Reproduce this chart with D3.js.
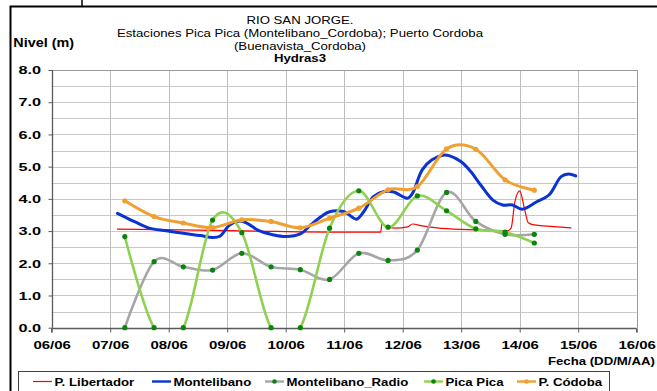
<!DOCTYPE html>
<html>
<head>
<meta charset="utf-8">
<script src="https://cdn.jsdelivr.net/npm/d3@7"></script>
<style>
  body { margin: 0; background: #fff; }
  svg { display: block; }
  text { font-family: "Liberation Sans", Arial, Helvetica, sans-serif; fill: #000; }
</style>
</head>
<body>
<svg id="chart" width="657" height="391"></svg>
<script>
// ---- Data -------------------------------------------------------------
// Twice-daily readings (06:00 and 18:00)
const obsTimes = ["07/06 06:00","07/06 18:00","08/06 06:00","08/06 18:00","09/06 06:00",
                  "09/06 18:00","10/06 06:00","10/06 18:00","11/06 06:00","11/06 18:00",
                  "12/06 06:00","12/06 18:00","13/06 06:00","13/06 18:00","14/06 06:00"];
const montelibanoRadio = [0.00, 2.05, 1.89, 1.79, 2.31, 1.89, 1.80, 1.50, 2.31, 2.09, 2.41, 4.20, 3.30, 2.90, 2.90];
const picaPica         = [2.83, 0.00, 0.00, 3.34, 2.95, 0.00, 0.00, 3.09, 4.25, 3.12, 4.09, 3.63, 3.07, 2.97, 2.63];
const pCordoba         = [3.94, 3.45, 3.25, 3.11, 3.35, 3.30, 3.10, 3.40, 3.71, 4.28, 4.38, 5.55, 5.54, 4.59, 4.27];

// Automatic station Montelibano
const montelibanoTimes = ["07/06 03:00","07/06 10:00","07/06 16:00","07/06 23:00","08/06 06:00",
                          "08/06 13:00","08/06 18:00","08/06 21:00","09/06 01:00","09/06 05:00",
                          "09/06 08:00","09/06 13:00","09/06 19:00","10/06 00:00","10/06 06:00",
                          "10/06 11:00","10/06 18:00","11/06 00:00","11/06 05:00","11/06 08:00",
                          "11/06 12:00","11/06 16:00","11/06 20:00","12/06 02:00","12/06 04:00",
                          "12/06 08:00","12/06 12:00","12/06 17:00","12/06 19:00","13/06 00:00",
                          "13/06 04:00","13/06 08:00","13/06 13:00","13/06 17:00","13/06 21:00",
                          "14/06 01:00","14/06 07:00","14/06 12:00","14/06 17:00","14/06 20:00",
                          "14/06 23:00"];
const montelibano = [3.55, 3.29, 3.09, 3.01, 2.93, 2.86, 2.80, 2.84, 3.19, 3.31,
                     3.25, 3.01, 2.88, 2.83, 2.91, 3.24, 3.60, 3.60, 3.37, 3.60,
                     4.07, 4.22, 4.22, 4.02, 4.17, 4.90, 5.21, 5.36, 5.34, 5.15,
                     4.84, 4.43, 3.96, 3.81, 3.81, 3.68, 3.91, 4.12, 4.69, 4.77,
                     4.71];

// Automatic station P. Libertador
const libertadorTimes = ["07/06 03:00","08/06 12:00","09/06 12:00","10/06 18:00","11/06 15:00",
                         "11/06 15:30","11/06 17:00","11/06 21:00","12/06 02:00","12/06 04:00",
                         "12/06 08:00","12/06 14:00","13/06 00:00","13/06 10:00","13/06 19:00",
                         "13/06 20:30","13/06 22:00","14/06 00:00","14/06 02:00","14/06 03:30",
                         "14/06 06:00","14/06 14:00","14/06 21:00"];
const libertador = [3.06, 3.03, 3.00, 2.97, 2.97, 3.24, 3.14, 3.09, 3.13, 3.22,
                    3.16, 3.10, 3.05, 3.03, 3.01, 3.10, 3.90, 4.25, 3.68, 3.26,
                    3.19, 3.14, 3.10];

const yTicks = [0, 1, 2, 3, 4, 5, 6, 7, 8];
const titleLines = ["RIO SAN JORGE.",
                    "Estaciones Pica Pica (Montelibano_Cordoba); Puerto Cordoba",
                    "(Buenavista_Cordoba)"];
const subtitle = "Hydras3";
const yTitle = "Nivel (m)";
const xTitle = "Fecha (DD/M/AA)";
const seriesNames = ["P. Libertador", "Montelibano", "Montelibano_Radio", "Pica Pica", "P. Códoba"];

// ---- Setup ------------------------------------------------------------
const parse = d3.timeParse("%d/%m %H:%M");
const svg = d3.select("#chart");
const plot = { left: 51.7, right: 636.7, top: 70, bottom: 327.7 };

const x = d3.scaleTime()
  .domain([parse("06/06 00:00"), parse("16/06 00:00")])
  .range([plot.left, plot.right]);
const y = d3.scaleLinear().domain([0, 8]).range([plot.bottom, plot.top]);

// widen glyphs horizontally by factor k
function stretch(sel, k) {
  sel.each(function () {
    const w = this.getComputedTextLength();
    this.setAttribute("textLength", (w * k).toFixed(1));
    this.setAttribute("lengthAdjust", "spacingAndGlyphs");
  });
}

svg.append("rect").attr("width", 657).attr("height", 391).attr("fill", "#fff");

// outer frame
svg.append("path")
  .attr("d", "M10.5,400V6.5H670")
  .attr("fill", "none").attr("stroke", "#000").attr("stroke-width", 2);
svg.append("line")
  .attr("x1", 82).attr("x2", 82).attr("y1", 0).attr("y2", 6)
  .attr("stroke", "#000").attr("stroke-width", 1.5);

// ---- Titles -----------------------------------------------------------
const titleY = [24, 37.3, 49.8];
const tl = svg.append("g").attr("text-anchor", "middle");
titleLines.forEach((t, i) => {
  tl.append("text").attr("x", 300).attr("y", titleY[i])
    .attr("font-size", 11).text(t).call(stretch, 1.2);
});
tl.append("text").attr("x", 300).attr("y", 61.7)
  .attr("font-size", 11).attr("font-weight", "bold").text(subtitle).call(stretch, 1.2);

svg.append("text").attr("x", 13.3).attr("y", 46.7)
  .attr("font-size", 12.5).attr("font-weight", "bold").text(yTitle).call(stretch, 1.15);

svg.append("text").attr("x", 655).attr("y", 365).attr("text-anchor", "end")
  .attr("font-size", 11).attr("font-weight", "bold").text(xTitle).call(stretch, 1.2);

// ---- Grid -------------------------------------------------------------
const grid = svg.append("g");
d3.range(0.5, 8, 0.5).forEach(v => {
  grid.append("line")
    .attr("x1", plot.left).attr("x2", plot.right)
    .attr("y1", Math.round(y(v)) + 0.5).attr("y2", Math.round(y(v)) + 0.5)
    .attr("stroke", "#c8c8c8").attr("stroke-width", 1);
});
x.ticks(d3.timeDay.every(1)).slice(1).forEach(d => {
  grid.append("line")
    .attr("x1", Math.round(x(d)) + 0.5).attr("x2", Math.round(x(d)) + 0.5)
    .attr("y1", plot.top).attr("y2", plot.bottom)
    .attr("stroke", "#bdbdbd").attr("stroke-width", 1);
});
// plot border (top, right)
grid.append("path")
  .attr("d", `M${plot.left},${Math.round(plot.top) + 0.5}H${Math.round(plot.right) + 0.5}V${plot.bottom}`)
  .attr("fill", "none").attr("stroke", "#9a9a9a").attr("stroke-width", 1);

// ---- Axes -------------------------------------------------------------
const yAxis = svg.append("g")
  .attr("transform", `translate(${Math.round(plot.left) + 0.5},0)`)
  .call(d3.axisLeft(y).tickValues(yTicks).tickFormat(d3.format(".1f")).tickSize(4).tickPadding(7.5));
const xAxis = svg.append("g")
  .attr("transform", `translate(0,${Math.round(plot.bottom) + 0.5})`)
  .call(d3.axisBottom(x).ticks(d3.timeDay.every(1)).tickFormat(d3.timeFormat("%d/%m")).tickSize(4).tickPadding(8.3));

[yAxis, xAxis].forEach(ax => {
  ax.select(".domain").attr("stroke", "#5a5a5a").attr("stroke-width", 1.3);
  ax.selectAll(".tick line").attr("stroke", "#5a5a5a");
  ax.selectAll(".tick text")
    .attr("font-family", '"Liberation Sans", Arial, sans-serif')
    .attr("font-size", 11.8).attr("font-weight", "bold").attr("fill", "#000");
});
yAxis.selectAll(".tick text").call(stretch, 1.38);
xAxis.selectAll(".tick text").call(stretch, 1.27);
// axis lines span the whole plot edge
yAxis.select(".domain").attr("d", `M0,${plot.top}V${plot.bottom}`);
xAxis.select(".domain").attr("d", `M${plot.left},0H${plot.right}M${plot.left},0V4M${plot.right},0V4`);

// ---- Series -----------------------------------------------------------
svg.append("clipPath").attr("id", "plotClip")
  .append("rect")
  .attr("x", plot.left).attr("y", plot.top)
  .attr("width", plot.right - plot.left).attr("height", plot.bottom - plot.top);

const series = svg.append("g");
const lines = series.append("g").attr("clip-path", "url(#plotClip)");

const smooth = d3.curveCardinal.tension(0);
function toPts(times, vals) { return times.map((t, i) => [parse(t), vals[i]]); }
const lineGen = curve => d3.line().x(d => x(d[0])).y(d => y(d[1])).curve(curve);

const colors = {
  libertador: "#ff0000",
  montelibano: "#0b33d2",
  radio: "#a6a6a6",
  pica: "#8fd150",
  cordoba: "#f0a032",
  dot: "#0a850a"
};

const seriesDefs = [
  { pts: toPts(libertadorTimes, libertador), color: colors.libertador, w: 1.2, curve: d3.curveMonotoneX },
  { pts: toPts(montelibanoTimes, montelibano), color: colors.montelibano, w: 3, curve: d3.curveCatmullRom.alpha(0.5) },
  { pts: toPts(obsTimes, montelibanoRadio), color: colors.radio, w: 2.6, curve: smooth, dot: colors.dot },
  { pts: toPts(obsTimes, picaPica), color: colors.pica, w: 2.6, curve: smooth, dot: colors.dot },
  { pts: toPts(obsTimes, pCordoba), color: colors.cordoba, w: 3, curve: smooth, dot: colors.cordoba }
];

seriesDefs.forEach(s => {
  lines.append("path")
    .attr("d", lineGen(s.curve)(s.pts))
    .attr("fill", "none").attr("stroke", s.color)
    .attr("stroke-width", s.w).attr("stroke-linejoin", "round").attr("stroke-linecap", "round");
  if (s.dot) {
    series.append("g").selectAll("circle").data(s.pts).join("circle")
      .attr("cx", d => x(d[0])).attr("cy", d => y(d[1]))
      .attr("r", 2.6).attr("fill", s.dot);
  }
});

// ---- Legend -----------------------------------------------------------
svg.append("rect")
  .attr("x", 18.5).attr("y", 371.5).attr("width", 591).attr("height", 40)
  .attr("fill", "#fff").attr("stroke", "#404040").attr("stroke-width", 1);

const legendX = [33, 152, 265, 424, 517];
const legend = svg.append("g");
seriesDefs.forEach((s, i) => {
  const g = legend.append("g").attr("transform", `translate(${legendX[i]},381.5)`);
  g.append("line").attr("x1", 0).attr("x2", 19).attr("y1", 0).attr("y2", 0)
    .attr("stroke", s.color).attr("stroke-width", Math.min(s.w, 2.4));
  if (s.dot) g.append("circle").attr("cx", 9.5).attr("cy", 0).attr("r", 2.3).attr("fill", s.dot);
  g.append("text").attr("x", 21.5).attr("y", 4.3)
    .attr("font-size", 11).attr("font-weight", "bold").text(seriesNames[i]).call(stretch, 1.2);
});
</script>
</body>
</html>
